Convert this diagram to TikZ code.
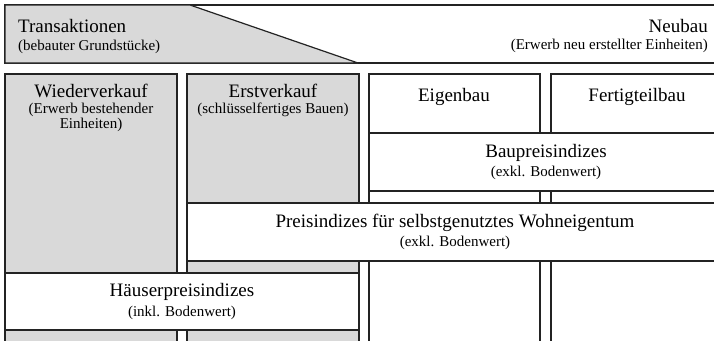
\documentclass[tikz,border=0pt]{standalone}
\usepackage{fontspec}
\setmainfont{Liberation Serif}
\usetikzlibrary{positioning}
\definecolor{boxgrey}{RGB}{217,217,217}
\definecolor{linedark}{RGB}{35,35,35}
\tikzset{
  greybox/.style={draw=linedark, fill=boxgrey, line width=1.2pt},
  whitebox/.style={draw=linedark, fill=white, line width=1.2pt},
  headtxt/.style={anchor=base, inner sep=0pt, font=\fontsize{19}{22}\selectfont},
  subtxt/.style={anchor=base, inner sep=0pt, font=\fontsize{15}{16}\selectfont}
}

\begin{document}
\begin{tikzpicture}[x=1pt, y=-1pt]
\useasboundingbox (0,0) rectangle (714,340);
\clip (0,0) rectangle (714,340);
%--- top band ---
\draw[whitebox] (5,5) rectangle (730,63);
\draw[greybox] (5,5) -- (190,5) -- (358,63) -- (5,63) -- cycle;
\node[headtxt, anchor=base west] (trans) at (18,32) {Transaktionen};
\node[subtxt, anchor=base west] (transsub) at (18,50) {(bebauter Grundstücke)};
\node[headtxt, anchor=base east] (neu) at (708,32) {Neubau};
\node[subtxt, anchor=base east] (neusub) at (708,49) {(Erwerb neu erstellter Einheiten)};

%--- columns ---
\draw[greybox]  (5,74)   rectangle (177,350);
\draw[greybox]  (187,74) rectangle (359,350);
\draw[whitebox] (369,74) rectangle (540,350);
\draw[whitebox] (551,74) rectangle (730,350);
\node[headtxt] (wieder) at (91,97) {Wiederverkauf};
\node[subtxt]  (wiedersub) at (91,113) {(Erwerb bestehender};
\node[subtxt]  (wiedersub2) at (91,128) {Einheiten)};
\node[headtxt] (erst) at (273,97) {Erstverkauf};
\node[subtxt]  (erstsub) at (273,113) {(schlüsselfertiges Bauen)};
\node[headtxt] (eigen) at (454,101) {Eigenbau};
\node[headtxt] (fertig) at (637,101) {Fertigteilbau};

%--- index bands ---
\draw[whitebox] (369,133) rectangle (730,191);
\node[headtxt] (bau) at (546,157) {Baupreisindizes};
\node[subtxt]  (bausub) at (546,176) {(exkl. Bodenwert)};

\draw[whitebox] (187,203) rectangle (730,261);
\node[headtxt] (preis) at (455,227) {Preisindizes für selbstgenutztes Wohneigentum};
\node[subtxt]  (preissub) at (455,246) {(exkl. Bodenwert)};

\draw[whitebox] (5,273) rectangle (359,330);
\node[headtxt] (haus) at (182,296) {Häuserpreisindizes};
\node[subtxt]  (haussub) at (182,316) {(inkl. Bodenwert)};
\end{tikzpicture}
\end{document}
